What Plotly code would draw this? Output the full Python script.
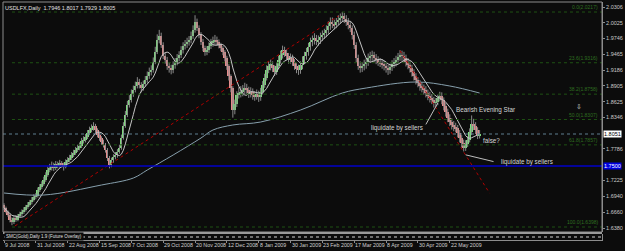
import plotly.graph_objects as go
import pandas as pd

# ---------------- data ----------------
closes = [
1.6735,1.6664,1.6611,1.6522,1.6487,1.6558,1.6522,1.6593,1.6629,1.6664,
1.6700,1.6753,1.6789,1.6842,1.6877,1.6931,1.6948,1.7055,1.7108,1.7162,
1.7233,1.7322,1.7410,1.7446,1.7481,1.7446,1.7517,1.7481,1.7535,1.7499,
1.7464,1.7552,1.7588,1.7624,1.7677,1.7712,1.7766,1.7801,1.7837,1.7926,
1.7943,1.7997,1.8068,1.8121,1.8156,1.8192,1.8121,1.8032,1.7979,1.7908,
1.7854,1.7766,1.7624,1.7499,1.7588,1.7641,1.7677,1.7730,1.7801,1.7979,
1.8192,1.8387,1.8565,1.8654,1.8760,1.8832,1.8903,1.8974,1.8920,1.8867,
1.8938,1.9009,1.9080,1.9151,1.9187,1.9329,1.9507,1.9720,1.9791,1.9631,
1.9436,1.9364,1.9258,1.9222,1.9187,1.9276,1.9329,1.9400,1.9453,1.9542,
1.9613,1.9649,1.9684,1.9720,1.9791,1.9897,2.0040,1.9933,1.9809,1.9684,
1.9578,1.9507,1.9542,1.9613,1.9667,1.9702,1.9720,1.9684,1.9631,1.9578,
1.9507,1.9400,1.9258,1.9080,1.8867,1.8476,1.8583,1.8743,1.8778,1.8796,
1.8832,1.8867,1.8832,1.8778,1.8796,1.8743,1.8725,1.8760,1.8707,1.8796,
1.8920,1.9045,1.9187,1.9258,1.9276,1.9222,1.9151,1.9258,1.9364,1.9453,
1.9542,1.9489,1.9436,1.9364,1.9400,1.9329,1.9258,1.9205,1.9187,1.9276,
1.9364,1.9436,1.9507,1.9595,1.9684,1.9720,1.9755,1.9702,1.9720,1.9773,
1.9809,1.9844,1.9897,1.9969,2.0040,2.0004,1.9986,2.0040,2.0075,2.0111,
2.0146,2.0093,2.0040,1.9986,1.9933,1.9809,1.9631,1.9400,1.9258,1.9222,
1.9258,1.9293,1.9329,1.9400,1.9436,1.9453,1.9400,1.9364,1.9329,1.9311,
1.9293,1.9258,1.9222,1.9187,1.9240,1.9293,1.9329,1.9364,1.9418,1.9453,
1.9436,1.9400,1.9329,1.9276,1.9222,1.9151,1.9080,1.9009,1.8956,1.8903,
1.8867,1.8832,1.8778,1.8725,1.8689,1.8654,1.8601,1.8618,1.8689,1.8725,
1.8654,1.8547,1.8441,1.8334,1.8263,1.8210,1.8174,1.8156,1.8068,1.7979,
1.7890,1.7801,1.7872,1.7943,1.8085,1.8228,1.8192,1.8121,1.8032,1.8050,
]
highs = [
1.682,1.676,1.669,1.664,1.657,1.660,1.661,1.663,1.667,1.671,
1.675,1.679,1.684,1.688,1.693,1.698,1.700,1.710,1.716,1.721,
1.729,1.737,1.747,1.752,1.756,1.754,1.757,1.756,1.759,1.757,
1.754,1.760,1.764,1.768,1.773,1.777,1.782,1.786,1.790,1.798,
1.801,1.805,1.812,1.818,1.822,1.826,1.823,1.815,1.808,1.801,
1.795,1.789,1.780,1.766,1.763,1.769,1.773,1.778,1.786,1.804,
1.826,1.846,1.864,1.874,1.884,1.891,1.898,1.906,1.903,1.897,
1.900,1.908,1.916,1.923,1.927,1.941,1.960,1.982,1.990,1.985,
1.968,1.950,1.942,1.932,1.928,1.934,1.940,1.947,1.952,1.961,
1.968,1.972,1.976,1.979,1.987,1.998,2.016,2.010,1.998,1.986,
1.974,1.962,1.961,1.968,1.974,1.978,1.981,1.978,1.973,1.967,
1.961,1.954,1.944,1.929,1.911,1.890,1.866,1.881,1.888,1.890,
1.892,1.896,1.894,1.889,1.888,1.886,1.881,1.884,1.882,1.887,
1.899,1.912,1.927,1.934,1.937,1.934,1.927,1.932,1.944,1.953,
1.962,1.960,1.955,1.949,1.948,1.946,1.938,1.931,1.928,1.934,
1.943,1.951,1.958,1.967,1.976,1.980,1.984,1.981,1.980,1.985,
1.989,1.992,1.998,2.005,2.012,2.012,2.008,2.011,2.016,2.019,
2.022,2.020,2.016,2.011,2.005,1.998,1.987,1.968,1.946,1.934,
1.933,1.937,1.940,1.948,1.951,1.953,1.951,1.947,1.943,1.940,
1.938,1.935,1.932,1.928,1.930,1.936,1.940,1.944,1.949,1.954,
1.953,1.951,1.946,1.940,1.934,1.928,1.920,1.913,1.906,1.901,
1.897,1.893,1.890,1.884,1.880,1.876,1.871,1.869,1.875,1.880,
1.879,1.870,1.860,1.850,1.840,1.833,1.828,1.825,1.821,1.812,
1.803,1.795,1.794,1.801,1.815,1.838,1.832,1.826,1.817,1.812,
]
lows = [
1.670,1.664,1.658,1.648,1.643,1.645,1.649,1.650,1.656,1.659,
1.663,1.667,1.672,1.676,1.680,1.685,1.689,1.692,1.702,1.707,
1.713,1.720,1.729,1.737,1.740,1.739,1.741,1.744,1.745,1.745,
1.740,1.744,1.752,1.755,1.759,1.764,1.768,1.773,1.776,1.780,
1.788,1.790,1.796,1.803,1.808,1.811,1.807,1.799,1.793,1.786,
1.781,1.772,1.757,1.744,1.746,1.754,1.760,1.763,1.770,1.777,
1.795,1.816,1.835,1.852,1.861,1.871,1.879,1.886,1.886,1.879,
1.882,1.889,1.896,1.903,1.909,1.914,1.929,1.947,1.966,1.958,
1.938,1.930,1.919,1.914,1.911,1.913,1.921,1.927,1.934,1.940,
1.948,1.955,1.958,1.962,1.966,1.974,1.985,1.988,1.975,1.963,
1.952,1.944,1.945,1.949,1.956,1.960,1.963,1.962,1.957,1.952,
1.945,1.934,1.919,1.900,1.879,1.834,1.840,1.853,1.868,1.870,
1.872,1.876,1.875,1.869,1.870,1.866,1.864,1.866,1.862,1.864,
1.875,1.887,1.900,1.913,1.918,1.915,1.908,1.910,1.920,1.930,
1.939,1.942,1.937,1.930,1.930,1.926,1.919,1.913,1.910,1.912,
1.920,1.929,1.937,1.944,1.953,1.961,1.964,1.963,1.962,1.965,
1.970,1.974,1.977,1.983,1.990,1.993,1.991,1.993,1.998,2.001,
2.004,2.002,1.997,1.991,1.986,1.973,1.956,1.932,1.919,1.914,
1.915,1.918,1.921,1.926,1.932,1.935,1.933,1.929,1.926,1.924,
1.921,1.918,1.914,1.910,1.912,1.917,1.922,1.925,1.930,1.935,
1.935,1.932,1.925,1.920,1.914,1.907,1.900,1.893,1.888,1.882,
1.879,1.875,1.870,1.865,1.861,1.858,1.852,1.853,1.856,1.863,
1.858,1.847,1.836,1.826,1.819,1.813,1.810,1.808,1.799,1.790,
1.781,1.774,1.775,1.782,1.790,1.803,1.812,1.805,1.796,1.797,
]
first_open = 1.6780
opens = [first_open] + closes[:-1]

# slow moving average (bar index, value)
slow_ma_bars = [0, 20, 49, 65, 72, 85, 99, 105, 115, 129, 149, 170, 182, 207, 224, 239]
slow_ma_vals = [1.7002, 1.6966, 1.7144, 1.7268, 1.7410, 1.7677, 1.7979, 1.8121,
                1.8210, 1.8263, 1.8476, 1.8778, 1.8867, 1.8974, 1.8903, 1.8778]

date_labels = ["9 Jul 2008", "31 Jul 2008", "22 Aug 2008", "15 Sep 2008", "7 Oct 2008",
               "29 Oct 2008", "20 Nov 2008", "12 Dec 2008", "8 Jan 2009", "30 Jan 2009",
               "23 Feb 2009", "17 Mar 2009", "8 Apr 2009", "30 Apr 2009", "22 May 2009"]
date_label_bars = [0, 16, 32, 48, 64, 80, 96, 112, 128, 144, 160, 176, 192, 208, 224]

price_ticks = [2.0306, 2.0025, 1.9746, 1.9465, 1.9186, 1.8905, 1.8625, 1.8346,
               1.7786, 1.7225, 1.6946, 1.6660, 1.6380]
price_tick_text = ["2.0306", "2.0025", "1.9746", "1.9465", "1.9186", "1.8905", "1.8625",
                   "1.8346", "1.7786", "1.7225", "1.6940", "1.6660", "1.6380"]

fib_names = ["0.0", "23.6", "38.2", "50.0", "61.8", "100.0"]
fib_vals = [2.0217, 1.9316, 1.8758, 1.8307, 1.7857, 1.6398]
fib_start_bar = 4

trend_up = ([5.5, 168.0], [1.6416, 2.0146])
trend_down = ([199.0, 244.0], [1.9530, 1.6999])

bid_line = 1.8050
support_line = 1.7480
bid_text = "1.8051"
support_text = "1.7500"

header = "USDLFX,Daily  1.7946 1.8017 1.7929 1.8005"

# ---------------- figure ----------------
BG = "#0c0c0c"
GRID = "#8c8c8c"
FONT = "Liberation Sans"
n = len(closes)
idx = list(range(n))

fig = go.Figure()

# wicks
wx, wy = [], []
for i in idx:
    wx += [i, i, None]
    wy += [lows[i], highs[i], None]
fig.add_trace(go.Scatter(x=wx, y=wy, mode="lines", line=dict(color="#8a8a8a", width=1),
                         hoverinfo="skip", showlegend=False))

# bodies
base = [min(o, c) for o, c in zip(opens, closes)]
height = [max(abs(c - o), 0.0006) for o, c in zip(opens, closes)]
cols = ["#7ee07e" if c >= o else "#e68c8c" for o, c in zip(opens, closes)]
fig.add_trace(go.Bar(x=idx, y=height, base=base, width=1.0, marker=dict(color=cols, line=dict(width=0)),
                     showlegend=False))

# fast moving average computed from closes
fast_ma = pd.Series(closes).rolling(8, min_periods=1).mean()
fig.add_trace(go.Scatter(x=idx, y=fast_ma, mode="lines", line=dict(color="#c4c4c4", width=1),
                         showlegend=False))

# slow moving average
fig.add_trace(go.Scatter(x=slow_ma_bars, y=slow_ma_vals, mode="lines",
                         line=dict(color="#87a0ad", width=1, shape="spline"), showlegend=False))

# trend lines
for tx, ty in (trend_up, trend_down):
    fig.add_trace(go.Scatter(x=tx, y=ty, mode="lines", line=dict(color="#b00000", width=1, dash="dot"),
                             showlegend=False))

# indicator strip (bottom)
fig.add_trace(go.Scatter(x=[0, 300], y=[0.5, 0.5], mode="lines", xaxis="x", yaxis="y2",
                         line=dict(color="#d0d0d0", width=1, dash="dot"), showlegend=False))

shapes = []
annotations = []
XMAX = 300.5
for name, v in zip(fib_names, fib_vals):
    shapes.append(dict(type="line", xref="x", yref="y", x0=fib_start_bar, x1=XMAX, y0=v, y1=v,
                       line=dict(color="#1f5214", width=1, dash="dot")))
    annotations.append(dict(xref="paper", yref="y", x=0.997, y=v, xanchor="right", yanchor="bottom",
                            text=f"{name}({v:.4f})", showarrow=False,
                            font=dict(family=FONT, size=5, color="#2f6f20")))
shapes.append(dict(type="line", xref="paper", yref="y", x0=0, x1=1, y0=bid_line, y1=bid_line,
                   line=dict(color="#5f7f90", width=1, dash="dot")))
shapes.append(dict(type="line", xref="paper", yref="y", x0=0, x1=1, y0=support_line, y1=support_line,
                   line=dict(color="#0000c8", width=1.5)))
# frame and separator
shapes.append(dict(type="rect", xref="paper", yref="paper", x0=0, x1=1, y0=0.0336, y1=1,
                   line=dict(color=GRID, width=1)))
shapes.append(dict(type="rect", xref="paper", yref="paper", x0=0, x1=1, y0=0.0252, y1=0.0336,
                   fillcolor="#9a9a9a", line=dict(width=0)))
# annotation leader lines
shapes.append(dict(type="line", xref="x", yref="y", x0=212, x1=218, y0=1.8220, y1=1.8600,
                   line=dict(color="#bdbdbd", width=1)))
shapes.append(dict(type="line", xref="x", yref="y", x0=232, x1=246, y0=1.7680, y1=1.7560,
                   line=dict(color="#bdbdbd", width=1)))

TXT = "#d6d6d6"
annotations += [
    dict(xref="paper", yref="paper", x=0.0, y=0.995, xanchor="left", yanchor="top", text=header,
         showarrow=False, font=dict(family=FONT, size=5.5, color="#e0e0e0")),
    dict(xref="x", yref="y", x=197.5, y=1.8156, text="liquidate by sellers", showarrow=False,
         font=dict(family=FONT, size=6.3, color=TXT)),
    dict(xref="x", yref="y", x=242, y=1.8476, text="Bearish Evening Star", showarrow=False,
         font=dict(family=FONT, size=6.3, color=TXT)),
    dict(xref="x", yref="y", x=245, y=1.7943, text="false?", showarrow=False,
         font=dict(family=FONT, size=6.3, color=TXT)),
    dict(xref="x", yref="y", x=263, y=1.7552, text="liquidate by sellers", showarrow=False,
         font=dict(family=FONT, size=6.3, color=TXT)),
    dict(xref="x", yref="y", x=289, y=1.8530, text="⇩", showarrow=False,
         font=dict(family="DejaVu Sans", size=7, color=TXT)),
    dict(xref="paper", yref="y", x=1.002, y=bid_line, xanchor="left", text=bid_text, showarrow=False,
         bgcolor="#ffffff", borderpad=0, font=dict(family=FONT, size=5.5, color="#000000")),
    dict(xref="paper", yref="y", x=1.002, y=support_line, xanchor="left", text=support_text,
         showarrow=False, bgcolor="#0000e0", borderpad=0, font=dict(family=FONT, size=5.5, color="#ffffff")),
    dict(xref="paper", yref="paper", x=0.002, y=0.013, xanchor="left", yanchor="middle",
         text="SMC(Gold),Daily 1.9 (Future Overlay)", showarrow=False,
         font=dict(family=FONT, size=4.5, color="#e0e0e0"), bgcolor=BG),
]
for lbl, b in zip(date_labels, date_label_bars):
    annotations.append(dict(xref="x", yref="paper", x=b - 0.5, y=-0.021, xanchor="left", yanchor="middle",
                            text=lbl, showarrow=False, font=dict(family=FONT, size=5.3, color="#d0d0d0")))

fig.update_layout(
    width=625, height=251, margin=dict(l=3, r=21, t=2, b=11),
    paper_bgcolor=BG, plot_bgcolor=BG, barmode="overlay", bargap=0,
    showlegend=False, shapes=shapes, annotations=annotations,
    xaxis=dict(range=[-0.5, XMAX], anchor="y2", showgrid=False, zeroline=False, showline=True,
               linecolor=GRID, linewidth=1, ticks="outside", ticklen=2, tickcolor=GRID,
               tickvals=date_label_bars, showticklabels=False),
    yaxis=dict(domain=[0.0336, 1], range=[1.6309, 2.0395], side="right", showgrid=False, zeroline=False,
               tickvals=price_ticks, ticktext=price_tick_text, ticks="outside", ticklen=2, tickcolor=GRID,
               tickfont=dict(family=FONT, size=5.5, color="#c8c8c8"), showline=True, linecolor=GRID),
    yaxis2=dict(domain=[0, 0.0252], range=[0, 1], showgrid=False, zeroline=False, showticklabels=False,
                side="right", showline=True, linecolor=GRID),
)

fig.write_html("out.html")
